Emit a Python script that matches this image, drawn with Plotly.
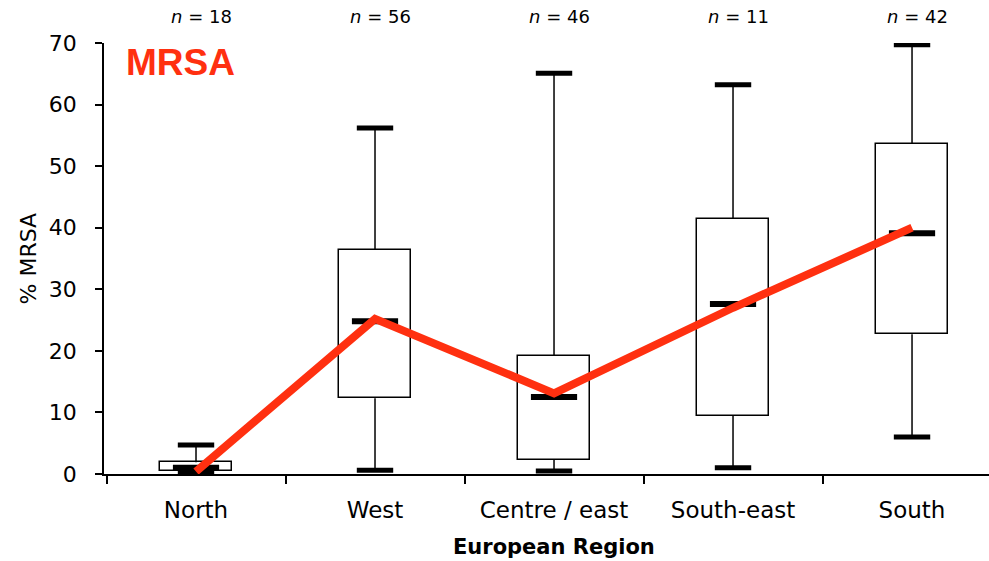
import plotly.graph_objects as go

regions = ["North", "West", "Centre / east", "South-east", "South"]
n_counts = [18, 56, 46, 11, 42]
lower_whisker = [0.2, 0.6, 0.5, 1.0, 6.0]
q1 = [0.5, 12.3, 2.3, 9.4, 22.7]
median = [1.0, 24.8, 12.5, 27.6, 39.1]
q3 = [1.9, 36.4, 19.2, 41.4, 53.6]
upper_whisker = [4.7, 56.2, 65.1, 63.2, 69.7]
mean_line = [0.4, 25.2, 13.1, 27.0, 40.0]

RED = "#FF3010"
FONT = "DejaVu Sans"
xs = list(range(len(regions)))

fig = go.Figure()

# boxes
fig.add_trace(go.Bar(
    x=xs, y=[b - a for a, b in zip(q1, q3)], base=q1, width=0.4,
    marker=dict(color="white", line=dict(color="black", width=1.5)),
    hoverinfo="skip", showlegend=False))

# whiskers
wx, wy = [], []
for i in xs:
    wx += [i, i, None, i, i, None]
    wy += [q3[i], upper_whisker[i], None, q1[i], lower_whisker[i], None]
fig.add_trace(go.Scatter(x=wx, y=wy, mode="lines",
                         line=dict(color="black", width=1.5),
                         hoverinfo="skip", showlegend=False))

# caps
fig.add_trace(go.Scatter(x=xs + xs, y=upper_whisker + lower_whisker, mode="markers",
                         marker=dict(symbol="line-ew", size=26,
                                     line=dict(color="black", width=5)),
                         hoverinfo="skip", showlegend=False))
# medians
fig.add_trace(go.Scatter(x=xs, y=median, mode="markers",
                         marker=dict(symbol="line-ew", size=33,
                                     line=dict(color="black", width=6)),
                         hoverinfo="skip", showlegend=False))
# red line
fig.add_trace(go.Scatter(x=xs, y=mean_line, mode="lines",
                         line=dict(color=RED, width=8),
                         hoverinfo="skip", showlegend=False))

annotations = []
for i, n in enumerate(n_counts):
    annotations.append(dict(x=i, xref="x", y=1.062, yref="paper",
                            text=f"<i>n</i> = {n}", showarrow=False,
                            xshift=5, yanchor="middle",
                            font=dict(family=FONT, size=18, color="black")))
annotations.append(dict(x=0.023, xref="paper", y=0.955, yref="paper",
                        text="<b>MRSA</b>", showarrow=False,
                        xanchor="left", yanchor="middle",
                        font=dict(family="Liberation Sans", size=37, color=RED)))
annotations.append(dict(x=0, xref="paper", y=0.5, yref="paper",
                        text="% MRSA", showarrow=False, textangle=-90,
                        xshift=-76, xanchor="center", yanchor="middle",
                        font=dict(family=FONT, size=22, color="black")))
annotations.append(dict(x=2, xref="x", y=0, yref="paper",
                        text="<b>European Region</b>", showarrow=False,
                        yshift=-73, xanchor="center", yanchor="middle",
                        font=dict(family=FONT, size=21, color="black")))

fig.update_layout(
    width=989, height=561,
    margin=dict(l=104, r=0, t=43, b=87),
    plot_bgcolor="white", paper_bgcolor="white",
    bargap=0, showlegend=False,
    annotations=annotations,
    xaxis=dict(range=[-0.514, 4.43], showgrid=False, zeroline=False,
               showline=True, linecolor="black", linewidth=1.5,
               tickmode="array", tickvals=xs, ticktext=regions, ticks="",
               tickfont=dict(family=FONT, size=23, color="black"),
               ticklabelstandoff=15,
               minor=dict(ticks="outside", ticklen=8, tickwidth=1.5,
                          tickcolor="black", tick0=0.5, dtick=1, showgrid=False)),
    yaxis=dict(range=[0, 70], showgrid=False, zeroline=False,
               showline=True, linecolor="black", linewidth=1.5,
               tickmode="array", tickvals=[0, 10, 20, 30, 40, 50, 60, 70],
               ticks="outside", ticklen=7, tickwidth=1.5, tickcolor="black",
               tickfont=dict(family=FONT, size=22, color="black"),
               ticklabelstandoff=14),
)

fig.write_html("out.html", config={"displayModeBar": False},
               post_script="document.body.style.margin='0';document.body.style.overflow='hidden';")
